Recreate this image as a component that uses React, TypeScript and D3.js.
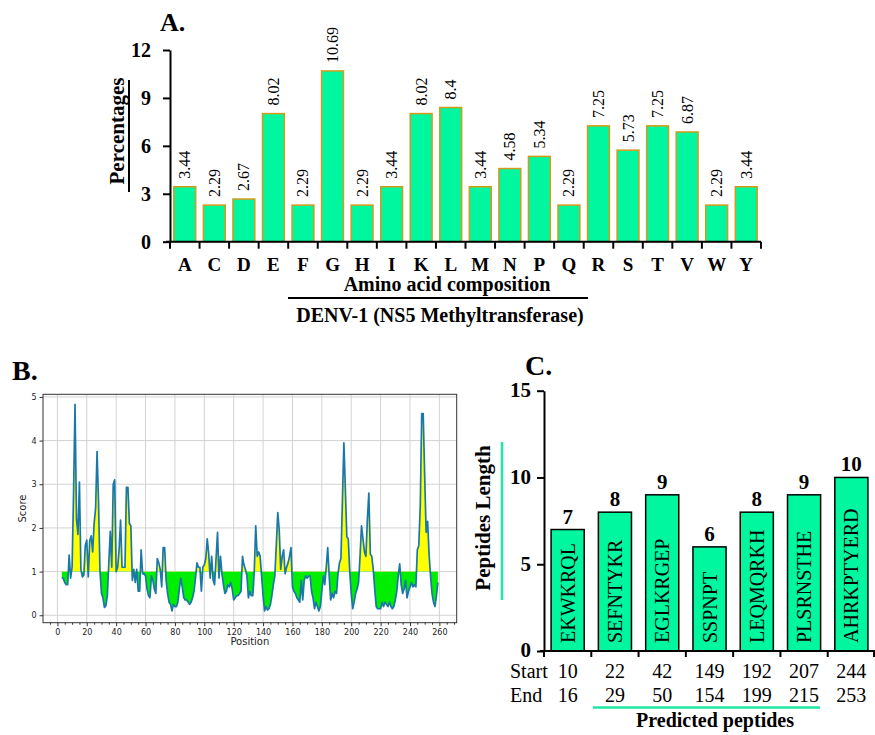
import React, { useEffect, useRef } from "react";
import * as d3 from "d3";

// Panel A: amino acid composition
const aminoAcids = ["A", "C", "D", "E", "F", "G", "H", "I", "K", "L", "M", "N", "P", "Q", "R", "S", "T", "V", "W", "Y"];
const aminoPercent = [3.44, 2.29, 2.67, 8.02, 2.29, 10.69, 2.29, 3.44, 8.02, 8.4, 3.44, 4.58, 5.34, 2.29, 7.25, 5.73, 7.25, 6.87, 2.29, 3.44];
const percentTicks = [0, 3, 6, 9, 12];

// Panel B: antigenicity score by position (first value is position 3)
const scoreStart = 3;
const scores = [
  0.85, 0.85, 0.75, 0.7, 0.7, 1.38, 0.85, 1.1, 2.8, 4.83,
  2.2, 1.85, 3.05, 1.05, 0.88, 0.92, 1.6, 1.72, 0.88, 1.7,
  1.82, 1.45, 2.1, 2.45, 3.75, 2.6, 1.0, 0.5, 0.4, 0.18,
  0.22, 0.45, 1.2, 1.92, 1.1, 3.0, 3.1, 1.0, 1.1, 1.5,
  2.18, 1.1, 1.1, 1.1, 2.93, 2.93, 2.1, 2.05, 0.8, 1.05,
  0.75, 1.05, 0.55, 0.55, 1.5, 0.95, 0.95, 0.9, 0.6, 0.45,
  0.4, 0.9, 0.8, 0.6, 0.5, 1.3, 1.2, 1.05, 0.65, 1.55,
  1.55, 0.8, 0.5, 0.3, 0.25, 0.1, 0.25, 0.2, 0.2, 0.3,
  0.6, 0.85, 0.65, 0.4, 0.35, 0.35, 0.3, 0.25, 0.3, 0.4,
  0.55, 0.85, 1.2, 1.1, 1.1, 0.55, 1.1, 1.15, 1.3, 1.75,
  1.4, 0.85, 1.35, 0.8, 0.7, 1.3, 1.9, 0.85, 1.35, 0.95,
  0.7, 0.5, 0.55, 0.7, 0.65, 0.75, 0.6, 0.35, 0.4, 0.45,
  0.45, 0.5, 0.55, 1.35, 1.15, 1.05, 0.9, 0.4, 0.55, 0.45,
  0.45, 1.0, 2.05, 1.35, 1.45, 1.35, 0.9, 0.45, 0.1, 0.2,
  0.12, 0.15, 0.25, 0.45, 0.7, 0.9, 1.6, 2.35, 1.95, 1.05,
  1.35, 1.5, 0.95, 1.1, 1.2, 1.35, 1.55, 0.65, 0.55, 0.5,
  0.4, 0.35, 0.3, 0.8, 0.35, 0.8, 0.9, 0.85, 0.9, 0.9,
  0.55, 0.4, 0.15, 0.3, 0.2, 0.1, 0.2, 0.55, 0.9, 0.7,
  1.1, 1.55, 0.9, 0.35, 0.5, 0.4, 0.55, 0.5, 0.95, 1.2,
  1.3, 2.6, 3.95, 2.9, 1.8, 1.75, 1.0, 0.5, 0.15, 0.3,
  0.5, 0.6, 0.75, 1.35, 2.05, 1.75, 1.45, 1.35, 2.2, 2.8,
  1.4, 1.35, 1.05, 0.6, 0.2, 0.15, 0.15, 0.15, 0.3, 0.2,
  0.3, 0.25, 0.2, 0.3, 0.2, 0.15, 0.2, 0.35, 0.55, 0.9,
  1.18, 0.7, 0.5, 0.6, 0.8, 0.4, 0.55, 0.65, 0.75, 0.65,
  0.7, 0.65, 1.5, 1.6, 2.5, 4.62, 4.62, 3.2, 1.9, 2.15,
  1.4, 0.9, 0.5, 0.3, 0.2, 0.45, 0.75,
];
const scoreThreshold = 1;
const positionTicks = [0, 20, 40, 60, 80, 100, 120, 140, 160, 180, 200, 220, 240, 260];
const positionMinorTicks = [-5, 5, 10, 15, 25, 30, 35, 45, 50, 55, 65, 70, 75, 85, 90, 95, 105, 110, 115, 125, 130, 135, 145, 150, 155, 165, 170, 175, 185, 190, 195, 205, 210, 215, 225, 230, 235, 245, 250, 255, 265, 270];
const scoreTicks = [0, 1, 2, 3, 4, 5];

// Panel C: predicted peptides
const peptides = ["EKWKRQL", "SEFNTYKR", "EGLKRGEP", "SSPNPT", "LEQMQRKH", "PLSRNSTHE", "AHRKPTYERD"];
const peptideLengths = [7, 8, 9, 6, 8, 9, 10];
const peptideStarts = [10, 22, 42, 149, 192, 207, 244];
const peptideEnds = [16, 29, 50, 154, 199, 215, 253];
const lengthTicks = [0, 5, 10, 15];

const serif = "'Times New Roman', 'Liberation Serif', serif";
const sans = "'DejaVu Sans', sans-serif";
const barGreen = "#00f7a0";
const accent = "#1de9a0";

function drawA(svg: any) {
  const g = svg.append("g");
  const x = d3.scaleBand().domain(aminoAcids).range([170, 761]);
  const y = d3.scaleLinear().domain([0, 12]).range([241.7, 50]);
  const bw = x.bandwidth();

  g.selectAll(".bar")
    .data(aminoPercent)
    .join("rect")
    .attr("x", (d: number, i: number) => x(aminoAcids[i])! + bw * 0.13)
    .attr("width", bw * 0.74)
    .attr("y", (d: number) => y(d))
    .attr("height", (d: number) => y(0) - y(d))
    .attr("fill", barGreen)
    .attr("stroke", "#d49a1a")
    .attr("stroke-width", 1.5);

  g.selectAll(".val")
    .data(aminoPercent)
    .join("text")
    .attr("transform", (d: number, i: number) => `translate(${x(aminoAcids[i])! + bw / 2},${y(d) - 8}) rotate(-90)`)
    .attr("dominant-baseline", "central")
    .attr("font-family", serif)
    .attr("font-size", 16)
    .text((d: number) => String(d));

  const yAxis = g
    .append("g")
    .attr("transform", "translate(170,0)")
    .call(d3.axisLeft(y).tickValues(percentTicks).tickSize(7).tickSizeOuter(0).tickPadding(12));
  yAxis.selectAll("text").attr("font-family", serif).attr("font-size", 20).attr("font-weight", "bold").attr("fill", "#000");
  yAxis.selectAll("path, line").attr("stroke", "#000").attr("stroke-width", 2);

  // x axis: labels at band centres, ticks at band boundaries
  g.append("line").attr("x1", 166).attr("x2", 761).attr("y1", y(0)).attr("y2", y(0)).attr("stroke", "#000").attr("stroke-width", 2);
  const bounds = [...aminoAcids.map((a) => x(a)!), x.range()[1]];
  g.selectAll(".xt")
    .data(bounds)
    .join("line")
    .attr("x1", (d: number) => d)
    .attr("x2", (d: number) => d)
    .attr("y1", y(0))
    .attr("y2", y(0) + 7)
    .attr("stroke", "#000")
    .attr("stroke-width", 2);
  g.selectAll(".xl")
    .data(aminoAcids)
    .join("text")
    .attr("x", (d: string) => x(d)! + bw / 2)
    .attr("y", 271)
    .attr("text-anchor", "middle")
    .attr("font-family", serif)
    .attr("font-size", 19)
    .attr("font-weight", "bold")
    .text((d: string) => d);

  g.append("text").attr("x", 160).attr("y", 31).attr("font-family", serif).attr("font-size", 26).attr("font-weight", "bold").text("A.");

  g.append("text")
    .attr("transform", "translate(124,131) rotate(-90)")
    .attr("text-anchor", "middle")
    .attr("font-family", serif)
    .attr("font-size", 21)
    .attr("font-weight", "bold")
    .text("Percentages");
  g.append("line").attr("x1", 129).attr("x2", 129).attr("y1", 80).attr("y2", 192).attr("stroke", "#000").attr("stroke-width", 2);

  g.append("text")
    .attr("x", 447)
    .attr("y", 291)
    .attr("text-anchor", "middle")
    .attr("font-family", serif)
    .attr("font-size", 20)
    .attr("font-weight", "bold")
    .text("Amino acid composition");
  g.append("line").attr("x1", 288).attr("x2", 588).attr("y1", 298).attr("y2", 298).attr("stroke", "#000").attr("stroke-width", 2);
  g.append("text")
    .attr("x", 440)
    .attr("y", 322)
    .attr("text-anchor", "middle")
    .attr("font-family", serif)
    .attr("font-size", 20)
    .attr("font-weight", "bold")
    .text("DENV-1 (NS5 Methyltransferase)");
}

function drawB(svg: any) {
  const g = svg.append("g");
  const left = 43, right = 456.7, top = 394.3, bottom = 622.7;
  const x = d3.scaleLinear().domain([-9.8, 271.8]).range([left, right]);
  const y = d3.scaleLinear().domain([-0.17, 5.06]).range([bottom, top]);
  const pts = scores.map((v, i) => [scoreStart + i, v] as [number, number]);

  // grid
  g.selectAll(".gx")
    .data(positionTicks)
    .join("line")
    .attr("x1", (d: number) => x(d))
    .attr("x2", (d: number) => x(d))
    .attr("y1", top)
    .attr("y2", bottom)
    .attr("stroke", "#d3d3d3")
    .attr("stroke-width", 1);
  g.selectAll(".gy")
    .data(scoreTicks)
    .join("line")
    .attr("x1", left)
    .attr("x2", right)
    .attr("y1", (d: number) => y(d))
    .attr("y2", (d: number) => y(d))
    .attr("stroke", "#d3d3d3")
    .attr("stroke-width", 1);

  const defs = g.append("defs");
  defs.append("clipPath").attr("id", "clip-above").append("rect")
    .attr("x", left).attr("y", top).attr("width", right - left).attr("height", y(scoreThreshold) - top);
  defs.append("clipPath").attr("id", "clip-below").append("rect")
    .attr("x", left).attr("y", y(scoreThreshold)).attr("width", right - left).attr("height", bottom - y(scoreThreshold));

  const area = d3.area<[number, number]>()
    .x((d) => x(d[0]))
    .y0(y(scoreThreshold))
    .y1((d) => y(d[1]));
  g.append("path").datum(pts).attr("d", area).attr("fill", "#ffff00").attr("clip-path", "url(#clip-above)");
  g.append("path").datum(pts).attr("d", area).attr("fill", "#00ee00").attr("clip-path", "url(#clip-below)");

  const line = d3.line<[number, number]>().x((d) => x(d[0])).y((d) => y(d[1]));
  g.append("path").datum(pts).attr("d", line).attr("fill", "none").attr("stroke", "#1a78a8").attr("stroke-width", 1.7).attr("stroke-linejoin", "round");

  g.append("rect").attr("x", left).attr("y", top).attr("width", right - left).attr("height", bottom - top)
    .attr("fill", "none").attr("stroke", "#333").attr("stroke-width", 1);

  const xAxis = g.append("g").attr("transform", `translate(0,${bottom})`)
    .call(d3.axisBottom(x).tickValues(positionTicks).tickSize(3.5).tickSizeOuter(0).tickPadding(3));
  xAxis.select(".domain").remove();
  xAxis.selectAll("text").attr("font-family", sans).attr("font-size", 8).attr("fill", "#222");
  xAxis.selectAll("line").attr("stroke", "#333");
  const xMinor = g.append("g").attr("transform", `translate(0,${bottom})`)
    .call(d3.axisBottom(x).tickValues(positionMinorTicks).tickSize(2).tickFormat(() => ""));
  xMinor.select(".domain").remove();
  xMinor.selectAll("line").attr("stroke", "#333");

  const yAxis = g.append("g").attr("transform", `translate(${left},0)`)
    .call(d3.axisLeft(y).tickValues(scoreTicks).tickSize(3.5).tickPadding(3).tickFormat(d3.format("d")));
  yAxis.select(".domain").remove();
  yAxis.selectAll("text").attr("font-family", sans).attr("font-size", 8).attr("fill", "#222");
  yAxis.selectAll("line").attr("stroke", "#333");

  g.append("text").attr("transform", `translate(26,${(top + bottom) / 2}) rotate(-90)`).attr("text-anchor", "middle")
    .attr("font-family", sans).attr("font-size", 10).attr("fill", "#222").text("Score");
  g.append("text").attr("x", (left + right) / 2).attr("y", 645).attr("text-anchor", "middle")
    .attr("font-family", sans).attr("font-size", 10).attr("fill", "#222").text("Position");

  g.append("text").attr("x", 12).attr("y", 380).attr("font-family", serif).attr("font-size", 28).attr("font-weight", "bold").text("B.");
}

function drawC(svg: any) {
  const g = svg.append("g");
  const x = d3.scaleBand().domain(peptides).range([544, 875]);
  const y = d3.scaleLinear().domain([0, 15]).range([651, 390.7]);
  const bw = x.bandwidth();

  g.selectAll(".pbar")
    .data(peptideLengths)
    .join("rect")
    .attr("x", (d: number, i: number) => x(peptides[i])! + bw * 0.15)
    .attr("width", bw * 0.7)
    .attr("y", (d: number) => y(d))
    .attr("height", (d: number) => y(0) - y(d))
    .attr("fill", barGreen)
    .attr("stroke", "#000")
    .attr("stroke-width", 1.5);

  g.selectAll(".plen")
    .data(peptideLengths)
    .join("text")
    .attr("x", (d: number, i: number) => x(peptides[i])! + bw / 2)
    .attr("y", (d: number) => y(d) - 6)
    .attr("text-anchor", "middle")
    .attr("font-family", serif)
    .attr("font-size", 21)
    .attr("font-weight", "bold")
    .text((d: number) => String(d));

  g.selectAll(".pname")
    .data(peptides)
    .join("text")
    .attr("transform", (d: string) => `translate(${x(d)! + bw / 2},${y(0) - 8}) rotate(-90)`)
    .attr("dominant-baseline", "central")
    .attr("font-family", serif)
    .attr("font-size", 20)
    .text((d: string) => d);

  const yAxis = g.append("g").attr("transform", "translate(544,0)")
    .call(d3.axisLeft(y).tickValues(lengthTicks).tickSize(7).tickSizeOuter(0).tickPadding(6));
  yAxis.selectAll("text").attr("font-family", serif).attr("font-size", 21).attr("font-weight", "bold").attr("fill", "#000").attr("dy", "0.28em");
  yAxis.selectAll("path, line").attr("stroke", "#000").attr("stroke-width", 2);

  g.append("line").attr("x1", 540).attr("x2", 875).attr("y1", y(0)).attr("y2", y(0)).attr("stroke", "#000").attr("stroke-width", 2);
  const bounds = [...peptides.map((p) => x(p)!), x.range()[1] - 1];
  g.selectAll(".pt")
    .data(bounds)
    .join("line")
    .attr("x1", (d: number) => d)
    .attr("x2", (d: number) => d)
    .attr("y1", y(0))
    .attr("y2", y(0) + 6)
    .attr("stroke", "#000")
    .attr("stroke-width", 2);

  g.selectAll(".pstart")
    .data(peptideStarts)
    .join("text")
    .attr("x", (d: number, i: number) => x(peptides[i])! + bw / 2)
    .attr("y", 678)
    .attr("text-anchor", "middle")
    .attr("font-family", serif)
    .attr("font-size", 20)
    .text((d: number) => String(d));
  g.selectAll(".pend")
    .data(peptideEnds)
    .join("text")
    .attr("x", (d: number, i: number) => x(peptides[i])! + bw / 2)
    .attr("y", 702)
    .attr("text-anchor", "middle")
    .attr("font-family", serif)
    .attr("font-size", 20)
    .text((d: number) => String(d));
  g.append("text").attr("x", 510).attr("y", 678).attr("font-family", serif).attr("font-size", 20).text("Start");
  g.append("text").attr("x", 510).attr("y", 702).attr("font-family", serif).attr("font-size", 20).text("End");

  g.append("line").attr("x1", 593).attr("x2", 820).attr("y1", 707.5).attr("y2", 707.5).attr("stroke", accent).attr("stroke-width", 2.5);
  g.append("text").attr("x", 715).attr("y", 727).attr("text-anchor", "middle").attr("font-family", serif)
    .attr("font-size", 20).attr("font-weight", "bold").text("Predicted peptides");

  g.append("text").attr("transform", "translate(490,518) rotate(-90)").attr("text-anchor", "middle")
    .attr("font-family", serif).attr("font-size", 21).attr("font-weight", "bold").text("Peptides Length");
  g.append("line").attr("x1", 502).attr("x2", 502).attr("y1", 442).attr("y2", 600).attr("stroke", accent).attr("stroke-width", 2.5);

  g.append("text").attr("x", 525).attr("y", 375).attr("font-family", serif).attr("font-size", 28).attr("font-weight", "bold").text("C.");
}

export default function App() {
  const svgRef = useRef<SVGSVGElement>(null);

  useEffect(() => {
    const svg = d3.select(svgRef.current);
    svg.selectAll("*").remove();
    drawA(svg);
    drawB(svg);
    drawC(svg);
  }, []);

  return (
    <svg
      ref={svgRef}
      width={875}
      height={735}
      style={{ position: "absolute", left: 0, top: 0, background: "#fff" }}
    ></svg>
  );
}
